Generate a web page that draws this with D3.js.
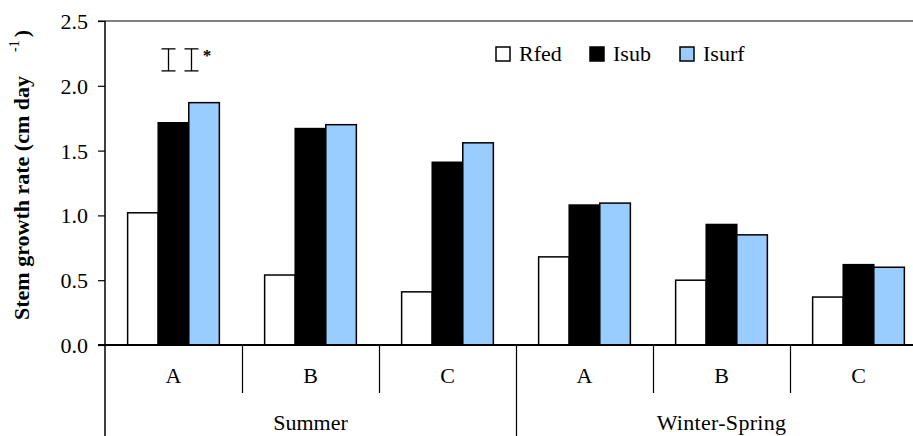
<!DOCTYPE html>
<html>
<head>
<meta charset="utf-8">
<script src="https://cdn.jsdelivr.net/npm/d3@7"></script>
<style>
  body { margin: 0; background: #fff; }
  svg text { font-family: "Liberation Serif", "DejaVu Serif", serif; }
</style>
</head>
<body>
<div id="chart"></div>
<script>
// data
const seasons = ['Summer', 'Winter-Spring'];
const sites = ['A', 'B', 'C'];
const treatments = ['Rfed', 'Isub', 'Isurf'];
const rfed  = [1.02, 0.54, 0.41, 0.68, 0.50, 0.37];
const isub  = [1.715, 1.67, 1.41, 1.08, 0.93, 0.62];
const isurf = [1.87, 1.70, 1.56, 1.095, 0.85, 0.60];
const lsdBars = [0.17, 0.17];   // LSD bars drawn at top left
const yTicks = [0, 0.5, 1.0, 1.5, 2.0, 2.5];

const colors = { Rfed: '#ffffff', Isub: '#000000', Isurf: '#99ccff' };
const serif = '"Liberation Serif", "DejaVu Serif", serif';

const groups = [];
seasons.forEach(s => sites.forEach(c => groups.push({ season: s, site: c, key: s + '-' + c })));
const values = { Rfed: rfed, Isub: isub, Isurf: isurf };

const width = 913, height = 436;
const plotLeft = 105, plotRight = 927, plotTop = 21, plotBottom = 345;

const svg = d3.select('#chart').append('svg')
  .attr('width', width)
  .attr('height', height)
  .attr('font-family', serif);

const x0 = d3.scaleBand()
  .domain(groups.map(d => d.key))
  .range([plotLeft, plotRight]);

const x1 = d3.scaleBand()
  .domain(treatments)
  .range([0, x0.bandwidth()])
  .paddingInner(0)
  .paddingOuter(0.74);

const y = d3.scaleLinear()
  .domain([0, 2.5])
  .range([plotBottom, plotTop]);

// top frame line (gray)
svg.append('line')
  .attr('x1', plotLeft - 7).attr('x2', width)
  .attr('y1', y(2.5)).attr('y2', y(2.5))
  .attr('stroke', '#808080').attr('stroke-width', 2);

// y axis
const yAxis = d3.axisLeft(y)
  .tickValues(yTicks)
  .tickSize(7)
  .tickPadding(10)
  .tickFormat(d3.format('.1f'));

const yAxisG = svg.append('g')
  .attr('transform', `translate(${plotLeft},0)`)
  .call(yAxis)
  .attr('font-family', serif);
yAxisG.select('.domain').remove();
yAxisG.selectAll('.tick line').attr('stroke', '#000').attr('stroke-width', 1.2);
yAxisG.selectAll('.tick text')
  .attr('font-size', 22)
  .attr('dy', '0.34em')
  .attr('fill', '#000');

// bars
groups.forEach((g, gi) => {
  const gEl = svg.append('g').attr('transform', `translate(${x0(g.key)},0)`);
  treatments.forEach(t => {
    gEl.append('rect')
      .attr('x', x1(t))
      .attr('y', y(values[t][gi]))
      .attr('width', x1.bandwidth())
      .attr('height', y(0) - y(values[t][gi]))
      .attr('fill', colors[t])
      .attr('stroke', '#000')
      .attr('stroke-width', 1.5);
  });
});

// left axis line (runs down through category area)
svg.append('line')
  .attr('x1', plotLeft).attr('x2', plotLeft)
  .attr('y1', plotTop).attr('y2', height)
  .attr('stroke', '#000').attr('stroke-width', 1.5);

// x axis baseline
svg.append('line')
  .attr('x1', plotLeft - 7).attr('x2', width)
  .attr('y1', y(0)).attr('y2', y(0))
  .attr('stroke', '#000').attr('stroke-width', 2);

// category dividers
groups.forEach((g, gi) => {
  if (gi === 0) return;
  const xx = Math.round(x0(g.key)) + 0.5;
  const seasonBreak = g.site === sites[0];
  svg.append('line')
    .attr('x1', xx).attr('x2', xx)
    .attr('y1', y(0)).attr('y2', seasonBreak ? height : 393)
    .attr('stroke', '#000').attr('stroke-width', 1.2);
});

// site labels
svg.selectAll('.site-label').data(groups).enter().append('text')
  .attr('class', 'site-label')
  .attr('x', d => x0(d.key) + x0.bandwidth() / 2)
  .attr('y', 383)
  .attr('text-anchor', 'middle')
  .attr('font-size', 22)
  .text(d => d.site);

// season labels
seasons.forEach(s => {
  const keys = groups.filter(g => g.season === s).map(g => g.key);
  const xs1 = x0(keys[0]);
  const xs2 = x0(keys[keys.length - 1]) + x0.bandwidth();
  svg.append('text')
    .attr('x', (xs1 + xs2) / 2)
    .attr('y', 430)
    .attr('text-anchor', 'middle')
    .attr('font-size', 22)
    .attr('letter-spacing', s === 'Winter-Spring' ? 0.3 : 0)
    .text(s);
});

// y title
const yTitle = svg.append('text')
  .attr('transform', 'translate(29,320) rotate(-90)')
  .attr('text-anchor', 'start')
  .attr('font-size', 22)
  .attr('font-weight', 'bold');
yTitle.append('tspan').text('Stem growth rate (cm day');
yTitle.append('tspan').attr('dx', 24).attr('dy', -10).attr('font-size', 14).attr('font-weight', 'normal').text('-1');
yTitle.append('tspan').attr('dx', 3).attr('dy', 10).text(')');

// LSD bars
const lsdX = [168.5, 191.5];
const lsdMid = 2.2;
lsdBars.forEach((v, i) => {
  const yt = y(lsdMid + v / 2), yb = y(lsdMid - v / 2);
  const g = svg.append('g').attr('stroke', '#000').attr('stroke-width', 1.3);
  g.append('line').attr('x1', lsdX[i]).attr('x2', lsdX[i]).attr('y1', yt).attr('y2', yb);
  g.append('line').attr('x1', lsdX[i] - 7).attr('x2', lsdX[i] + 7).attr('y1', yt).attr('y2', yt);
  g.append('line').attr('x1', lsdX[i] - 7).attr('x2', lsdX[i] + 7).attr('y1', yb).attr('y2', yb);
});
svg.append('text')
  .attr('x', 207).attr('y', 61)
  .attr('text-anchor', 'middle')
  .attr('font-size', 17)
  .attr('font-weight', 'bold')
  .text('*');

// legend
const legendX = [496, 590, 680];
treatments.forEach((t, i) => {
  svg.append('rect')
    .attr('x', legendX[i]).attr('y', 47)
    .attr('width', 14).attr('height', 14)
    .attr('fill', colors[t])
    .attr('stroke', '#000')
    .attr('stroke-width', 1.5);
  svg.append('text')
    .attr('x', legendX[i] + 23).attr('y', 61)
    .attr('font-size', 22)
    .text(t);
});
</script>
</body>
</html>
